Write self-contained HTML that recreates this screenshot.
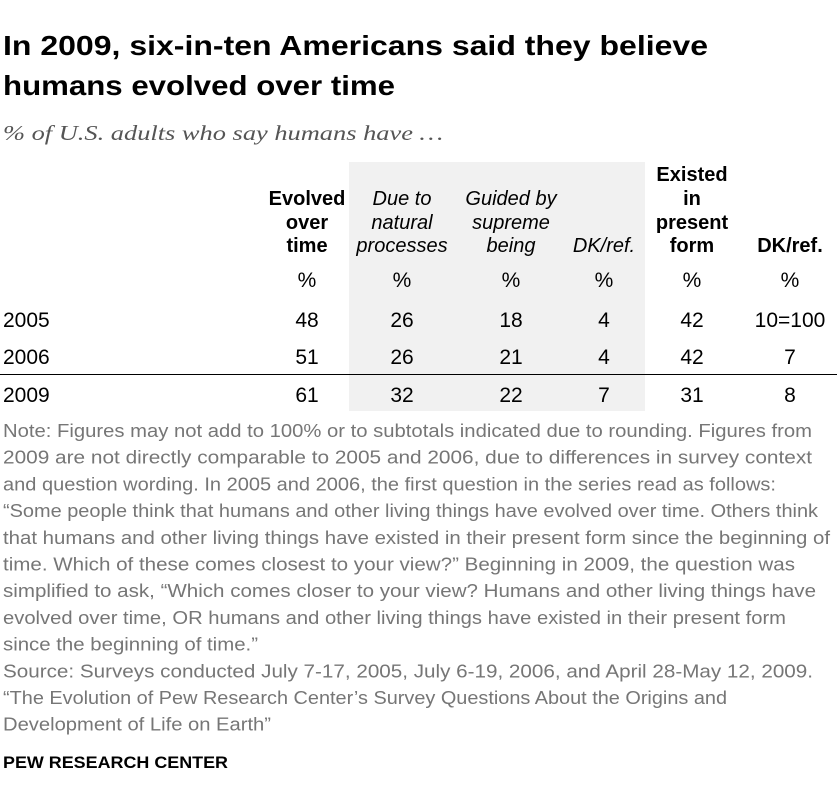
<!DOCTYPE html>
<html><head><meta charset="utf-8"><style>
body{margin:0;background:#fff}
svg{display:block;font-family:"Liberation Sans Narrow","Liberation Sans",sans-serif}
.h{font-weight:bold;font-size:20px;fill:#000}
.i{font-style:italic;font-size:20px;fill:#000}
.d{font-size:21px;fill:#000}
.n{font-family:"Liberation Sans",sans-serif;font-size:18px;fill:#767676}
</style></head><body>
<svg width="837" height="803" viewBox="0 0 837 803">
<rect x="349" y="162" width="296" height="249" fill="#f1f1f1"/>
<text x="3" y="55" font-family="Liberation Sans" font-weight="bold" font-size="28" textLength="705" lengthAdjust="spacingAndGlyphs">In 2009, six-in-ten Americans said they believe</text>
<text x="3" y="95" font-family="Liberation Sans" font-weight="bold" font-size="28" textLength="392" lengthAdjust="spacingAndGlyphs">humans evolved over time</text>
<text x="3" y="140" font-family="Liberation Serif" font-style="italic" font-size="21" fill="#555" textLength="440" lengthAdjust="spacingAndGlyphs">% of U.S. adults who say humans have …</text>
<g text-anchor="middle">
<text class="h" x="307" y="205">Evolved</text><text class="h" x="307" y="229">over</text><text class="h" x="307" y="252">time</text>
<text class="i" x="402" y="205">Due to</text><text class="i" x="402" y="229">natural</text><text class="i" x="402" y="252">processes</text>
<text class="i" x="511" y="205">Guided by</text><text class="i" x="511" y="229">supreme</text><text class="i" x="511" y="252">being</text>
<text class="i" x="604" y="252">DK/ref.</text>
<text class="h" x="692" y="181">Existed</text><text class="h" x="692" y="205">in</text><text class="h" x="692" y="229">present</text><text class="h" x="692" y="252">form</text>
<text class="h" x="790" y="252">DK/ref.</text>
</g>
<g id="rows" text-anchor="middle"></g>
<line x1="0" y1="374.5" x2="837" y2="374.5" stroke="#000" stroke-width="1"/>
<g id="notes"></g>
<text x="3" y="768" font-family="Liberation Sans" font-weight="bold" font-size="17" textLength="225" lengthAdjust="spacingAndGlyphs">PEW RESEARCH CENTER</text>
</svg>
<script>
const years=["2005","2006","2009"];
const evolved=["48","51","61"];
const natural=["26","26","32"];
const guided=["18","21","22"];
const dkEvolved=["4","4","7"];
const existed=["42","42","31"];
const dkTotal=["10=100","7","8"];
const NS="http://www.w3.org/2000/svg";
const cols=[307,402,511,604,692,790];
const rowY=[327,364,402];
const rows=document.getElementById('rows');
function t(x,y,s,cls,anchor){const e=document.createElementNS(NS,'text');e.setAttribute('x',x);e.setAttribute('y',y);e.setAttribute('class',cls);if(anchor)e.setAttribute('text-anchor',anchor);e.textContent=s;rows.appendChild(e);return e;}
cols.forEach(c=>{const e=t(c,287,'%','d');

});
years.forEach((y,i)=>{
const yl=t(3,rowY[i],y,'d','start');


[evolved,natural,guided,dkEvolved,existed,dkTotal].forEach((arr,j)=>{
const e=t(cols[j],rowY[i],arr[i],'d');

});
});
const notes=[["Note: Figures may not add to 100% or to subtotals indicated due to rounding. Figures from",809],
["2009 are not directly comparable to 2005 and 2006, due to differences in survey context",809],
["and question wording. In 2005 and 2006, the first question in the series read as follows:",773],
["“Some people think that humans and other living things have evolved over time. Others think",815],
["that humans and other living things have existed in their present form since the beginning of",827],
["time. Which of these comes closest to your view?” Beginning in 2009, the question was",792],
["simplified to ask, “Which comes closer to your view? Humans and other living things have",813],
["evolved over time, OR humans and other living things have existed in their present form",783],
["since the beginning of time.”",255],
["Source: Surveys conducted July 7-17, 2005, July 6-19, 2006, and April 28-May 12, 2009.",810],
["“The Evolution of Pew Research Center’s Survey Questions About the Origins and",724],
["Development of Life on Earth”",268]];
const ng=document.getElementById('notes');
notes.forEach((n,i)=>{const e=document.createElementNS(NS,'text');e.setAttribute('x',3);e.setAttribute('y',437+i*26.7);e.setAttribute('class','n');e.setAttribute('textLength',n[1]);e.setAttribute('lengthAdjust','spacingAndGlyphs');e.textContent=n[0];


ng.appendChild(e);});
</script>
</body></html>
